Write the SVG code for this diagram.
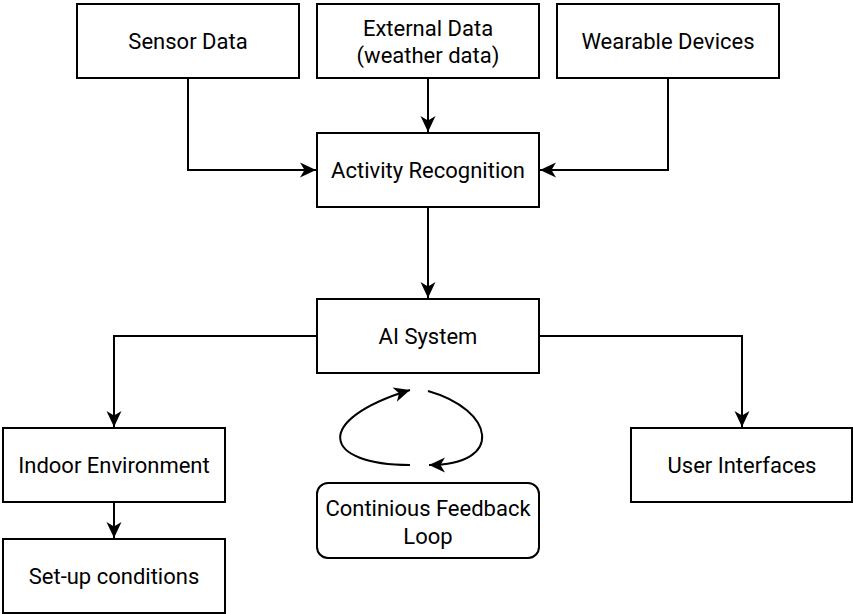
<svg xmlns="http://www.w3.org/2000/svg" width="853" height="614" viewBox="0 0 853 614">
<style>
.box{fill:#fff;stroke:#000;stroke-width:2}
.t{font-family:Roboto,"Liberation Sans",sans-serif;font-size:22px;fill:#000;text-anchor:middle}
.c{fill:none;stroke:#000;stroke-width:2}
</style>
<defs>
<marker id="a" markerUnits="userSpaceOnUse" markerWidth="18" markerHeight="16" refX="16" refY="8" orient="auto">
<path d="M0,0.5 L16,8 L0,15.5 L4.5,8 z" fill="#000"/>
</marker>
</defs>
<rect width="853" height="614" fill="#fff"/>
<g id="connectors">
<path class="c" d="M188,78 V170 H316" marker-end="url(#a)"/>
<path class="c" d="M428,78 V132" marker-end="url(#a)"/>
<path class="c" d="M668,78 V170 H540" marker-end="url(#a)"/>
<path class="c" d="M428,207 V298" marker-end="url(#a)"/>
<path class="c" d="M317,336 H114 V427" marker-end="url(#a)"/>
<path class="c" d="M539,336 H742 V427" marker-end="url(#a)"/>
<path class="c" d="M114,502 V538" marker-end="url(#a)"/>
<path class="c" d="M410,465 C322,465 312,420 410,390" marker-end="url(#a)"/>
<path class="c" d="M428,391 C495,410 505,465 429,465" marker-end="url(#a)"/>
</g>
<g id="sensor"><rect class="box" x="77" y="4" width="222" height="74"/><text class="t" x="188" y="48.5">Sensor Data</text></g>
<g id="external"><rect class="box" x="317" y="4" width="222" height="74"/><text class="t" x="428" y="35.5">External Data</text><text class="t" x="428" y="62.5">(weather data)</text></g>
<g id="wearable"><rect class="box" x="557" y="4" width="222" height="74"/><text class="t" x="668" y="48.5">Wearable Devices</text></g>
<g id="activity"><rect class="box" x="317" y="133" width="222" height="74"/><text class="t" x="428" y="177.5">Activity Recognition</text></g>
<g id="ai"><rect class="box" x="317" y="299" width="222" height="74"/><text class="t" x="428" y="343.5">AI System</text></g>
<g id="indoor"><rect class="box" x="3" y="428" width="222" height="74"/><text class="t" x="114" y="472.5">Indoor Environment</text></g>
<g id="setup"><rect class="box" x="3" y="539" width="222" height="74"/><text class="t" x="114" y="583.5">Set-up conditions</text></g>
<g id="ui"><rect class="box" x="631" y="428" width="221" height="74"/><text class="t" x="742" y="472.5">User Interfaces</text></g>
<g id="feedback"><rect class="box" x="317" y="483" width="222" height="75" rx="11"/><text class="t" x="428" y="515.5">Continious Feedback</text><text class="t" x="428" y="543.5">Loop</text></g>
</svg>
